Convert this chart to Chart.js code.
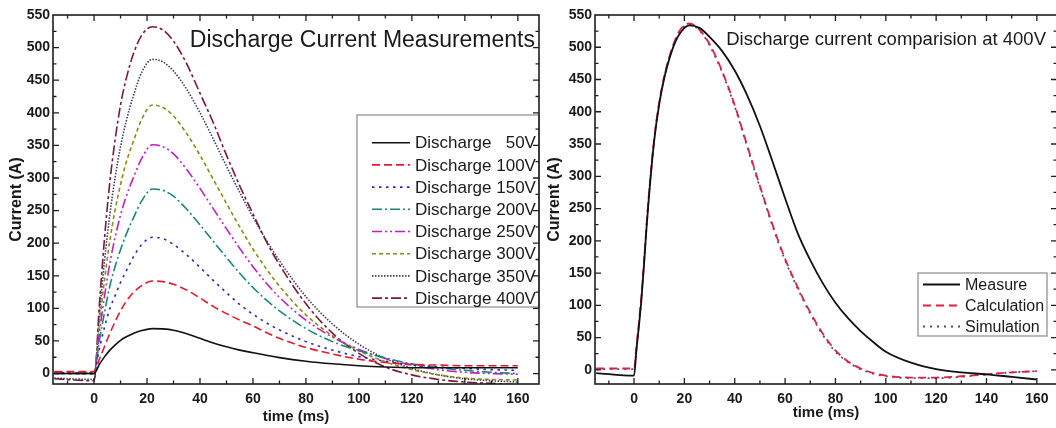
<!DOCTYPE html>
<html lang="en">
<head>
<meta charset="UTF-8">
<title>Discharge Current</title>
<script src="https://cdn.jsdelivr.net/npm/chart.js"></script>
<style>
  html, body { margin: 0; padding: 0; background: #fff; overflow: hidden; }
  body { width: 1056px; height: 428px; position: relative; }
  .panel { position: absolute; top: 0; }
  #leftPanel { left: 0; }
  #rightPanel { left: 540px; }
</style>
</head>
<body>
<div class="panel" id="leftPanel"><canvas id="leftChart" width="545" height="428"></canvas></div>
<div class="panel" id="rightPanel"><canvas id="rightChart" width="525" height="428"></canvas></div>
<script>
// ---- left panel: discharge current for each charging voltage ----
const timeL = [-15, 0, 2, 4, 6, 8, 10, 12, 15, 18, 22, 26, 30, 35, 40, 45, 50, 55, 60, 65, 70, 80, 90, 100, 110, 120, 130, 140, 150, 160];

const v50  = [0, 0, 14, 26, 36, 44, 51, 56, 62, 66, 69, 68.5, 66.5, 61, 54, 47, 41, 36, 32, 28, 24.5, 19, 15, 12, 10, 9, 9, 9, 9, 9];
const v100 = [3, 3, 22, 42, 62, 80, 96, 110, 125, 135, 142, 141, 137, 128, 116, 103, 92, 82, 73, 63, 54, 40, 30, 22, 17, 14, 13, 12, 12, 12];
const v150 = [1, 1, 38, 72, 100, 120, 140, 156, 180, 198, 209, 207, 198, 182, 163, 143, 124, 106, 91, 78, 67, 49, 36, 26, 19, 13, 10, 8, 6, 5];
const v200 = [0, 0, 50, 95, 135, 165, 190, 212, 240, 265, 283, 281, 272, 252, 228, 203, 178, 154, 132, 113, 96, 69, 49, 35, 24, 15, 9, 5, 2, 0];
const v250 = [2, 1, 62, 120, 170, 210, 243, 270, 302, 330, 351, 348, 337, 313, 284, 253, 222, 192, 164, 139, 117, 82, 56, 37, 23, 13, 6, 2, 0, -1];
const v300 = [0, -1, 75, 145, 205, 252, 290, 322, 358, 390, 412, 408, 395, 368, 335, 298, 261, 225, 191, 161, 134, 90, 58, 35, 18, 6, -2, -7, -9, -10];
const v350 = [-7, -9, 88, 175, 245, 302, 348, 385, 428, 462, 482, 478, 464, 436, 400, 360, 318, 278, 240, 205, 173, 118, 76, 45, 23, 8, -2, -8, -11, -13];
const v400 = [-8, -11, 105, 210, 295, 360, 412, 450, 492, 519, 532, 527, 510, 475, 430, 385, 335, 288, 245, 203, 167, 107, 62, 31, 10, -2, -9, -13, -15, -17];

const seriesL = [
  { label: 'Discharge   50V', values: v50,  color: '#111111', dash: [] },
  { label: 'Discharge 100V', values: v100, color: '#e8182c', dash: [8, 4] },
  { label: 'Discharge 150V', values: v150, color: '#2a2ab4', dash: [2.5, 4.5] },
  { label: 'Discharge 200V', values: v200, color: '#17877a', dash: [10, 3, 2, 3] },
  { label: 'Discharge 250V', values: v250, color: '#c21fc2', dash: [10, 3, 2, 3, 2, 3] },
  { label: 'Discharge 300V', values: v300, color: '#8c8c14', dash: [4, 3] },
  { label: 'Discharge 350V', values: v350, color: '#3a3a6a', dash: [1.5, 1.5] },
  { label: 'Discharge 400V', values: v400, color: '#7a1838', dash: [10, 3, 3, 3] }
];

// ---- right panel: 400V comparison ----
const timeR = [-15, 0, 1, 2, 3, 4, 5, 6, 8, 10, 12, 15, 18, 22, 26, 30, 35, 40, 45, 50, 55, 60, 65, 70, 75, 80, 85, 90, 95, 100, 110, 120, 130, 140, 150, 160];

const measure     = [-5, -9, 32, 70, 112, 165, 222, 272, 355, 412, 452, 494, 520, 534, 530, 516, 494, 464, 425, 378, 323, 266, 212, 170, 134, 104, 80, 60, 43, 28, 11, 1, -4, -7, -11, -15];
const calculation = [2, 2, 38, 75, 118, 170, 226, 276, 358, 414, 455, 497, 525, 537, 527, 505, 463, 410, 347, 285, 225, 172, 128, 89, 56, 30, 13, 2, -5, -9, -12, -12, -10, -7, -4, -2];
const simulation  = [1, 1, 36, 73, 116, 168, 224, 275, 357, 413, 454, 496, 524, 535, 526, 503, 461, 408, 345, 283, 223, 170, 126, 87, 54, 28, 12, 1, -6, -10, -13, -13, -11, -7, -4, -2];

const seriesR = [
  { label: 'Measure',     values: measure,     color: '#111111', dash: [] },
  { label: 'Calculation', values: calculation, color: '#e0203e', dash: [8, 5] },
  { label: 'Simulation',  values: simulation,  color: '#4a4a7a', dash: [2, 5] }
];

const xTicks = [0, 20, 40, 60, 80, 100, 120, 140, 160];
const yTicks = [0, 50, 100, 150, 200, 250, 300, 350, 400, 450, 500, 550];

const FONT = '"Liberation Sans", Arial, sans-serif';

// frame, inward ticks on all sides, in-plot title and legend box
const panelDecor = {
  id: 'panelDecor',
  afterDatasetsDraw(chart, args, opts) {
    const { ctx, chartArea: a, scales: { x, y } } = chart;
    ctx.save();
    ctx.setLineDash([]);

    // title inside the plot
    if (opts.title) {
      ctx.fillStyle = '#1a1a1a';
      ctx.font = opts.title.font;
      ctx.textAlign = 'right';
      ctx.textBaseline = 'alphabetic';
      ctx.fillText(opts.title.text, opts.title.x, opts.title.y);
    }

    // legend
    const lg = opts.legend;
    if (lg) {
      ctx.fillStyle = '#fff';
      ctx.fillRect(lg.x, lg.y, lg.w, lg.h);
      ctx.strokeStyle = '#8a8a8a';
      ctx.lineWidth = 1.2;
      ctx.strokeRect(lg.x, lg.y, lg.w, lg.h);
      ctx.font = lg.font;
      ctx.textAlign = 'left';
      ctx.textBaseline = 'middle';
      chart.data.datasets.forEach((ds, i) => {
        const ry = lg.firstRow + i * lg.rowH;
        ctx.strokeStyle = ds.borderColor;
        ctx.lineWidth = ds.borderWidth;
        ctx.setLineDash(ds.borderDash || []);
        ctx.beginPath();
        ctx.moveTo(lg.sx0, ry);
        ctx.lineTo(lg.sx1, ry);
        ctx.stroke();
        ctx.setLineDash([]);
        ctx.fillStyle = '#1a1a1a';
        ctx.fillText(ds.label, lg.tx, ry + 1);
      });
    }

    // axes frame
    ctx.strokeStyle = '#1e1e1e';
    ctx.lineWidth = 1.6;
    ctx.strokeRect(a.left, a.top, a.right - a.left, a.bottom - a.top);

    ctx.lineWidth = 1.3;
    ctx.beginPath();
    for (let v = -10; v <= x.max; v += 10) {
      const px = x.getPixelForValue(v);
      if (px <= a.left || px >= a.right) continue;
      const len = v % 20 === 0 ? 6 : 3.5;
      ctx.moveTo(px, a.bottom); ctx.lineTo(px, a.bottom - len);
      ctx.moveTo(px, a.top); ctx.lineTo(px, a.top + len);
    }
    for (let v = 0; v <= y.max; v += 25) {
      const py = y.getPixelForValue(v);
      if (py <= a.top || py >= a.bottom) continue;
      const len = v % 50 === 0 ? 6 : 3.5;
      ctx.moveTo(a.left, py); ctx.lineTo(a.left + len, py);
      ctx.moveTo(a.right, py); ctx.lineTo(a.right - len, py);
    }
    ctx.stroke();
    ctx.restore();
  }
};

function buildDatasets(times, series, width) {
  return series.map(s => ({
    label: s.label,
    data: times.map((t, i) => ({ x: t, y: s.values[i] })),
    borderColor: s.color,
    borderDash: s.dash,
    borderWidth: width,
    pointRadius: 0,
    fill: false,
    cubicInterpolationMode: 'monotone'
  }));
}

function makeChart(id, cfg) {
  return new Chart(document.getElementById(id), {
    type: 'line',
    data: { datasets: buildDatasets(cfg.times, cfg.series, cfg.lineWidth) },
    plugins: [panelDecor],
    options: {
      responsive: false,
      animation: false,
      layout: { padding: cfg.padding },
      plugins: {
        legend: { display: false },
        tooltip: { enabled: false },
        panelDecor: { title: cfg.title, legend: cfg.legend }
      },
      scales: {
        x: {
          type: 'linear',
          min: -15.5,
          max: 168,
          afterBuildTicks: s => { s.ticks = xTicks.map(v => ({ value: v })); },
          afterFit: s => { s.height = 44; },
          grid: { display: false, drawTicks: false },
          border: { display: false },
          ticks: { padding: 7, color: '#1a1a1a', font: { family: FONT, size: 14, weight: 'bold' } },
          title: {
            display: true, text: 'time (ms)', color: '#1a1a1a',
            font: { family: FONT, size: 15, weight: 'bold' },
            padding: { top: 0, bottom: cfg.xTitlePad }
          }
        },
        y: {
          min: cfg.yMin,
          max: 550,
          afterBuildTicks: s => { s.ticks = yTicks.map(v => ({ value: v })); },
          afterFit: s => { s.width = cfg.yWidth; },
          grid: { display: false, drawTicks: false },
          border: { display: false },
          ticks: { padding: 3, color: '#1a1a1a', font: { family: FONT, size: 14, weight: 'bold' } },
          title: {
            display: true, text: 'Current (A)', color: '#1a1a1a',
            font: { family: FONT, size: 16, weight: 'bold' },
            padding: { top: cfg.yTitlePad, bottom: 0 }
          }
        }
      }
    }
  });
}

makeChart('leftChart', {
  times: timeL,
  series: seriesL,
  lineWidth: 1.6,
  yMin: -16,
  yWidth: 53,
  padding: { left: 0, top: 15, right: 6, bottom: 0 },
  xTitlePad: 2,
  yTitlePad: 7,
  title: { text: 'Discharge Current Measurements', x: 535, y: 47, font: '23px ' + FONT },
  legend: { x: 357, y: 115, w: 182, h: 192, firstRow: 142.7, rowH: 22.2, sx0: 372, sx1: 410, tx: 415, font: '17px ' + FONT }
});

makeChart('rightChart', {
  times: timeR,
  series: seriesR,
  lineWidth: 1.8,
  yMin: -22,
  yWidth: 55,
  padding: { left: 0, top: 15, right: 8, bottom: 0 },
  xTitlePad: 6,
  yTitlePad: 5,
  title: { text: 'Discharge current comparision at 400V', x: 506, y: 45, font: '18.5px ' + FONT },
  legend: { x: 378, y: 273, w: 129, h: 63, firstRow: 284.5, rowH: 21, sx0: 383, sx1: 420, tx: 425, font: '16px ' + FONT }
});
</script>
</body>
</html>
